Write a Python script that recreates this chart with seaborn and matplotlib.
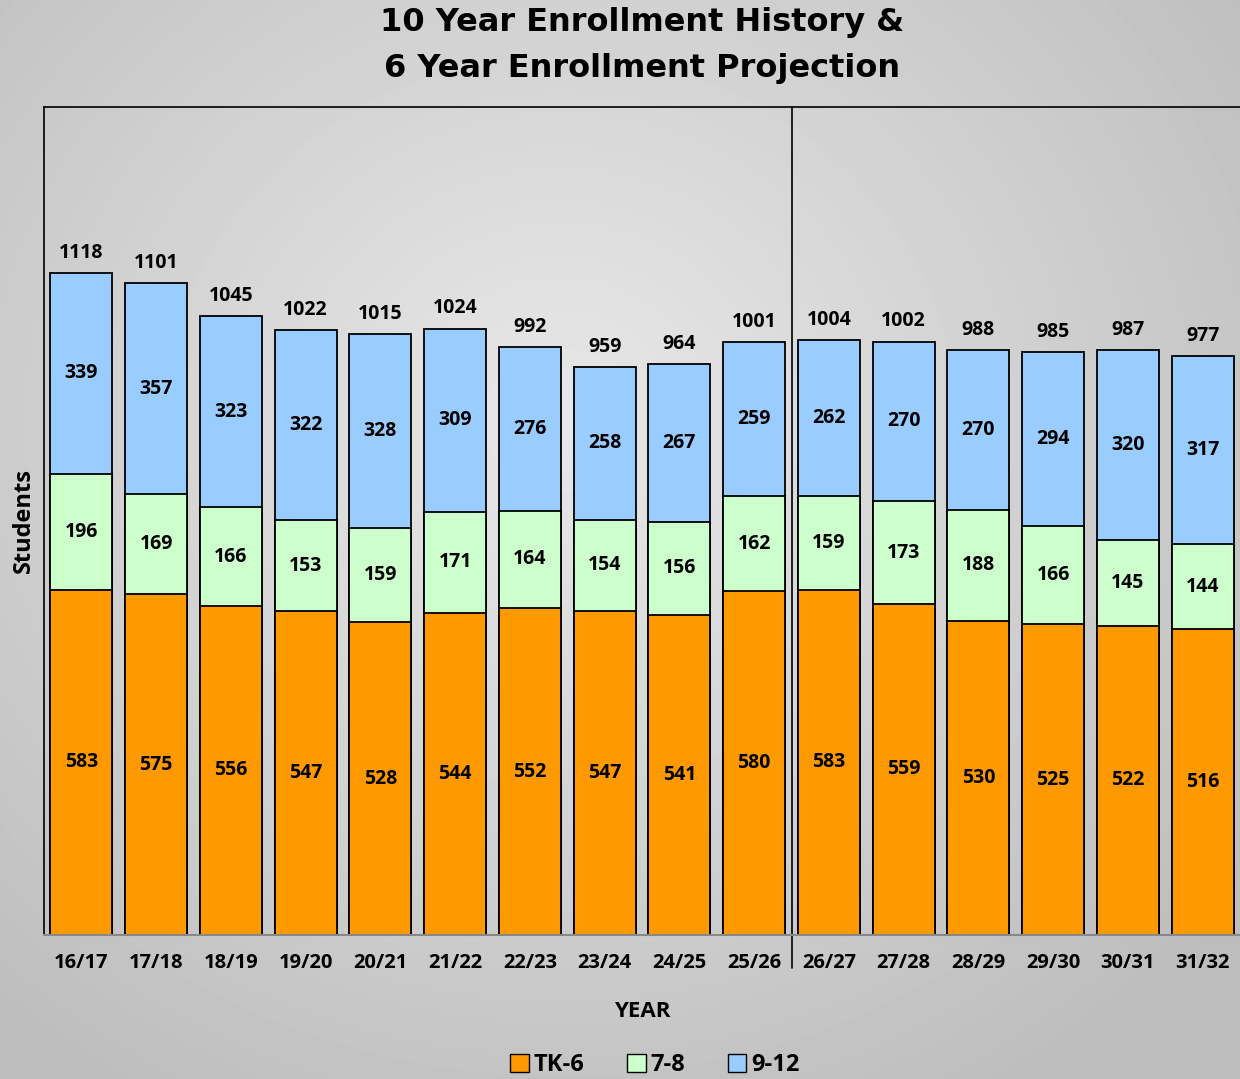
import numpy as np
import pandas as pd
import matplotlib
matplotlib.use("Agg")
import matplotlib.pyplot as plt
import seaborn as sns
from matplotlib.patches import Patch

# ----------------------------
# Data
# ----------------------------
years = ["16/17", "17/18", "18/19", "19/20", "20/21", "21/22", "22/23", "23/24",
         "24/25", "25/26", "26/27", "27/28", "28/29", "29/30", "30/31", "31/32"]
tk6 = [583, 575, 556, 547, 528, 544, 552, 547, 541, 580, 583, 559, 530, 525, 522, 516]
gr78 = [196, 169, 166, 153, 159, 171, 164, 154, 156, 162, 159, 173, 188, 166, 145, 144]
gr912 = [339, 357, 323, 322, 328, 309, 276, 258, 267, 259, 262, 270, 270, 294, 320, 317]
totals = [1118, 1101, 1045, 1022, 1015, 1024, 992, 959, 964, 1001, 1004, 1002, 988, 985, 987, 977]

df = pd.DataFrame({"Year": years, "TK-6": tk6, "7-8": gr78, "9-12": gr912})
df["lvl2"] = df["TK-6"] + df["7-8"]
df["lvl3"] = df["lvl2"] + df["9-12"]

c_tk6 = "#FF9900"
c_78 = "#CCFFCC"
c_912 = "#99CCFF"

sns.set_theme(style="white")
plt.rcParams["font.family"] = ["Open Sans", "DejaVu Sans"]
plt.rcParams["text.color"] = "black"
plt.rcParams["axes.labelcolor"] = "black"
plt.rcParams["xtick.color"] = "black"

fig = plt.figure(figsize=(12.4, 10.79), dpi=100)

# radial gradient background
bg = fig.add_axes([0, 0, 1, 1], zorder=-10)
yy, xx = np.mgrid[0:1079, 0:1240]
r = np.sqrt(((xx - 560) / 760.0) ** 2 + ((yy - 420) / 700.0) ** 2)
shade = np.clip(0.91 - 0.15 * r, 0.74, 0.92)
bg.imshow(shade, cmap="gray", vmin=0, vmax=1, aspect="auto")
bg.axis("off")

ax = fig.add_axes([44 / 1240, 1 - 935 / 1079, 1196 / 1240, 828 / 1079])
ax.patch.set_alpha(0)

# stacked bars: draw cumulative heights back to front
bw = 0.83
sns.barplot(data=df, x="Year", y="lvl3", color=c_912, saturation=1, width=bw,
            edgecolor="black", linewidth=1.3, ax=ax)
sns.barplot(data=df, x="Year", y="lvl2", color=c_78, saturation=1, width=bw,
            edgecolor="black", linewidth=1.3, ax=ax)
sns.barplot(data=df, x="Year", y="TK-6", color=c_tk6, saturation=1, width=bw,
            edgecolor="black", linewidth=1.3, ax=ax)

lab = dict(ha="center", va="center", fontsize=14, fontweight="bold", color="black")
for i in range(len(years)):
    ax.text(i, tk6[i] / 2, str(tk6[i]), **lab)
    ax.text(i, tk6[i] + gr78[i] / 2, str(gr78[i]), **lab)
    ax.text(i, tk6[i] + gr78[i] + gr912[i] / 2, str(gr912[i]), **lab)
    ax.text(i, totals[i] + 17, str(totals[i]), ha="center", va="bottom",
            fontsize=14, fontweight="bold", color="black")

ax.set_xlim(-0.5, 15.5)
ax.set_ylim(0, 1398)
ax.set_yticks([])
ax.tick_params(axis="x", length=0, pad=13)
ax.set_xticks(range(len(years)))
ax.set_xticklabels(years, fontsize=14.5, fontweight="bold")
ax.set_xlabel("YEAR", fontsize=16, fontweight="bold", labelpad=20)
ax.set_ylabel("Students", fontsize=17, fontweight="bold", labelpad=6)

ax.spines["right"].set_visible(False)
ax.spines["left"].set_color("black")
ax.spines["left"].set_linewidth(1.2)
ax.spines["top"].set_color("black")
ax.spines["top"].set_linewidth(1.2)
ax.spines["bottom"].set_color("#888888")
ax.spines["bottom"].set_linewidth(1.5)

# history / projection divider
ax.plot([9.5, 9.5], [-56, 1398], color="black", linewidth=1.2, clip_on=False)

fig.text(0.518, 1 - 23 / 1079, "10 Year Enrollment History &", ha="center", va="center",
         fontsize=23, fontweight="bold", family="DejaVu Sans")
fig.text(0.518, 1 - 68 / 1079, "6 Year Enrollment Projection", ha="center", va="center",
         fontsize=23, fontweight="bold", family="DejaVu Sans")

handles = [Patch(facecolor=c_tk6, edgecolor="black", label="TK-6"),
           Patch(facecolor=c_78, edgecolor="black", label="7-8"),
           Patch(facecolor=c_912, edgecolor="black", label="9-12")]
fig.legend(handles=handles, loc="center", bbox_to_anchor=(0.528, 1 - 1065 / 1079), ncol=3,
           frameon=False, handlelength=0.8, handleheight=0.8, handletextpad=0.2,
           columnspacing=1.8, prop={"size": 17, "weight": "bold", "family": "Open Sans"})

fig.savefig("out.png", dpi=100)
